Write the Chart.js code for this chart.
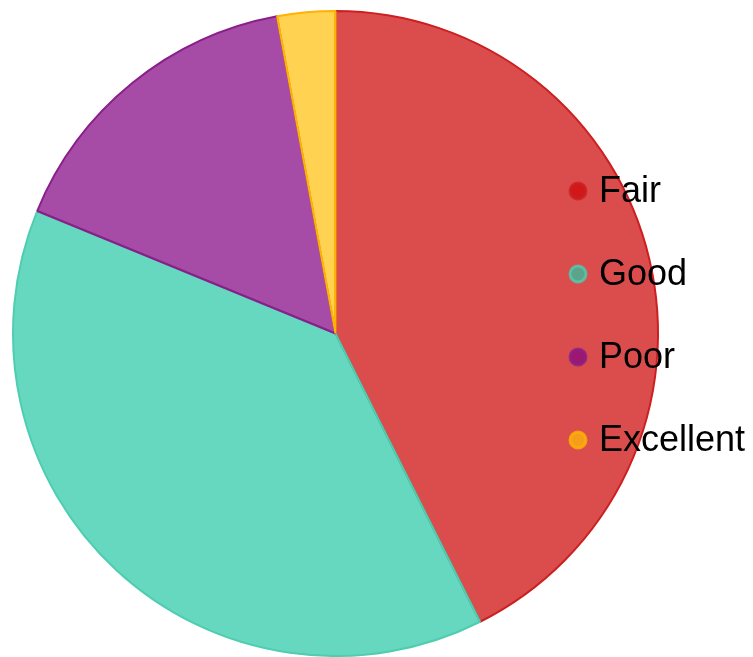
<!DOCTYPE html>
<html>
<head>
<meta charset="utf-8">
<title>Rating breakdown</title>
<script src="https://cdn.jsdelivr.net/npm/chart.js@4/dist/chart.umd.min.js"></script>
<style>
  html, body { margin: 0; padding: 0; background: #fff; }
  #wrap { width: 753px; height: 657px; position: relative; }
</style>
</head>
<body>
<div id="wrap"><canvas id="pie-chart"></canvas></div>
<script>
// Share of ratings (%)
const labels = ['Fair', 'Good', 'Poor', 'Excellent'];
const values = [42.6, 38.6, 15.9, 2.9];
const fillColors = ['rgba(204, 0, 0, 0.7)', 'rgba(39, 199, 165, 0.7)', 'rgba(128, 0, 128, 0.7)', 'rgba(255, 193, 7, 0.7)'];
const lineColors = ['#cc1f1f', '#4ecdb1', '#8a1f8a', '#ffb300'];

// Legend stacked over the right side of the pie
const sideLegend = {
  id: 'sideLegend',
  afterDraw(chart) {
    const ctx = chart.ctx;
    const ds = chart.data.datasets[0];
    ctx.save();
    ctx.font = '36px Arial, "Liberation Sans", sans-serif';
    ctx.textBaseline = 'middle';
    ctx.textAlign = 'left';
    chart.data.labels.forEach((label, i) => {
      const y = 191 + i * 83;
      ctx.beginPath();
      ctx.arc(578, y, 8, 0, Math.PI * 2);
      ctx.fillStyle = ds.backgroundColor[i];
      ctx.fill();
      ctx.lineWidth = 3;
      ctx.strokeStyle = ds.borderColor[i];
      ctx.globalAlpha = 0.8;
      ctx.stroke();
      ctx.globalAlpha = 1;
      ctx.fillStyle = '#000';
      ctx.fillText(label, 599, y + 1);
    });
    ctx.restore();
  }
};

new Chart(document.getElementById('pie-chart'), {
  type: 'pie',
  data: {
    labels: labels,
    datasets: [{
      data: values,
      backgroundColor: fillColors,
      borderColor: lineColors,
      borderWidth: 2
    }]
  },
  options: {
    responsive: true,
    maintainAspectRatio: false,
    animation: false,
    layout: { padding: { top: 10, bottom: 0, left: 12, right: 94 } },
    plugins: {
      legend: { display: false },
      tooltip: { enabled: false }
    }
  },
  plugins: [sideLegend]
});
</script>
</body>
</html>
